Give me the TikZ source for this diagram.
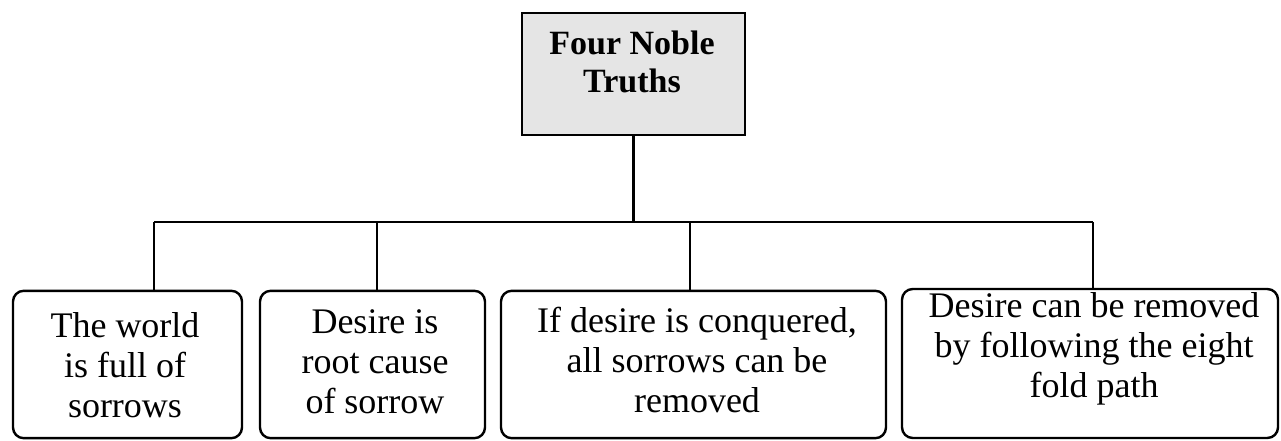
\documentclass[tikz,border=0pt]{standalone}
\usepackage{fontspec}
\setmainfont{Liberation Serif}
\begin{document}
\begin{tikzpicture}[x=0.75pt,y=-0.75pt,
  headbox/.style={draw, line width=1.5pt, fill=black!10, minimum width=167pt, minimum height=91.5pt, inner sep=0pt, outer sep=0pt},
  truthbox/.style={draw, line width=1.8pt, rounded corners=8pt, minimum height=110.5pt, inner sep=0pt, outer sep=0pt},
  headtext/.style={align=center, inner sep=0pt, font=\fontsize{25.5}{29}\selectfont\bfseries},
  truthtext/.style={align=center, inner sep=0pt, font=\fontsize{27}{30}\selectfont},
  conn/.style={line width=1.6pt},
]
\useasboundingbox (0,0) rectangle (1281,441);

% title box
\node[headbox] (head) at (633.5,74) {};
\node[headtext] (headlabel) at (632,62) {Four Noble\\Truths};

% the four truths
\node[truthbox, minimum width=171.75pt] (b1) at (127.5,364.5) {};
\node[truthbox, minimum width=168.75pt] (b2) at (372.5,364.5) {};
\node[truthbox, minimum width=288.75pt] (b3) at (693.5,364.5) {};
\node[truthbox, minimum width=282pt, minimum height=111.75pt] (b4) at (1090,363.5) {};

\node[truthtext] (t1) at (125,365) {The world\\is full of\\sorrows};
\node[truthtext] (t2) at (375,362) {Desire is\\root cause\\of sorrow};
\node[truthtext] (t3) at (697,360) {If desire is conquered,\\all sorrows can be\\removed};
\node[truthtext] (t4) at (1094,349) {Desire can be removed\\by following the eight\\fold path};

% branching connectors
\coordinate (hub) at (633.5,222);
\coordinate (j1) at (154,222);
\coordinate (j2) at (377,222);
\coordinate (j3) at (690,222);
\coordinate (j4) at (1093,222);

\draw[conn] (head.south) -- (hub);
\draw[conn] (j1) -- (j4);
\draw[conn] (j1) -- (j1 |- b1.north);
\draw[conn] (j2) -- (j2 |- b2.north);
\draw[conn] (j3) -- (j3 |- b3.north);
\draw[conn] (j4) -- (j4 |- b4.north);
\end{tikzpicture}
\end{document}
